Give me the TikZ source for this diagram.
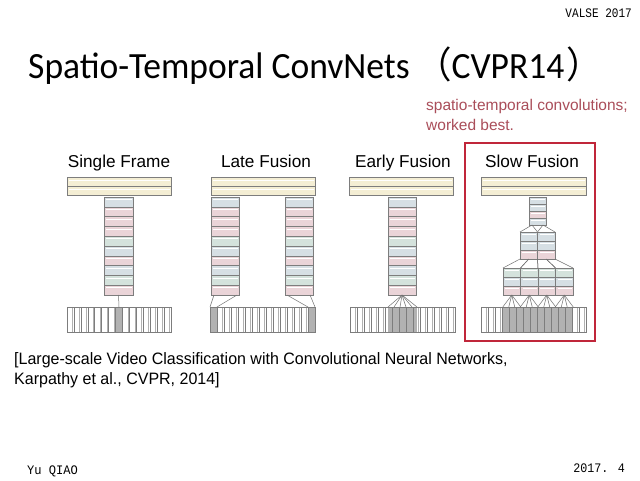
\documentclass[tikz,border=0pt]{standalone}
\usepackage{fontspec}
\usepackage{graphicx}
\setmainfont{Liberation Sans}
\newfontfamily\titlefont{Carlito}
\newfontfamily\cjkfont{Noto Sans CJK SC}
\newfontfamily\footfont{Liberation Mono}
\definecolor{fcy}{RGB}{244,238,212}
\definecolor{lb}{RGB}{214,223,228}
\definecolor{pk}{RGB}{234,212,216}
\definecolor{gb}{RGB}{212,226,220}
\definecolor{edge}{RGB}{125,125,125}
\definecolor{redbox}{RGB}{192,38,58}
\definecolor{annot}{RGB}{170,78,90}
\definecolor{grayframe}{RGB}{178,178,178}
\newcommand{\stripes}[5]{% x0, x1, y0, y1, n
  \pgfmathsetmacro\sw{(#2-#1)/#5}
  \foreach \k in {1,...,#5}{
    \pgfmathsetmacro\xa{#1+(\k-1)*\sw}
    \pgfmathsetmacro\xb{#1+\k*\sw-1.6}
    \draw[edge,line width=0.5pt] (\xa,#3) -- (\xa,#4);
    \draw[edge!60,line width=0.4pt] (\xb,#3+1) -- (\xb,#4);
  }
}
\tikzset{
  layer/.style={draw=edge, line width=0.5pt, inner sep=0pt, outer sep=0pt,
    path picture={\draw[white,line width=0.8pt] ([xshift=2pt,yshift=-2.6pt]path picture bounding box.north west) -- ([xshift=-1.5pt,yshift=-2.6pt]path picture bounding box.north east);}},
  fcbar/.style={layer, fill=fcy, minimum height=9pt},
  inbox/.style={draw=edge, line width=0.6pt, fill=white, inner sep=0pt, outer sep=0pt, minimum height=25pt},
  conn/.style={draw=edge!90!black, line width=0.5pt},
  colhead/.style={anchor=base, inner sep=0pt, font=\fontsize{17.2}{19}\selectfont},
  foot/.style={inner sep=0pt, font=\footfont\fontsize{13}{14}\selectfont}
}
\begin{document}
\begin{tikzpicture}[x=1pt,y=-1pt]
\useasboundingbox[fill=white] (0,0) rectangle (640,480);

% ---- texts ----
\node[foot, anchor=base east] (valse) at (632,17) {\scalebox{0.85}[1]{VALSE 2017}};
\node[anchor=base west, inner sep=0pt] (title) at (28,78) {\titlefont\fontsize{37}{40}\selectfont\scalebox{0.96}[1]{Spatio-Temporal ConvNets\hspace{0.18em}{\cjkfont （}CVPR14\hspace{0.05em}{\cjkfont ）}}};
\node[anchor=base west, inner sep=0pt, text=annot, align=left, font=\fontsize{15.5}{20}\selectfont] (annot) at (426,130) {spatio-temporal convolutions;\\worked best.};

\node[colhead] (h1) at (119,167) {Single Frame};
\node[colhead] (h2) at (266,167) {Late Fusion};
\node[colhead] (h3) at (403,167) {Early Fusion};
\node[colhead] (h4) at (532,167) {Slow Fusion};

\node[anchor=base west, inner sep=0pt, align=left, font=\fontsize{16.5}{19.5}\selectfont] (cite) at (14,384) {\scalebox{0.97}[1]{[Large-scale Video Classification with Convolutional Neural Networks,}\\\scalebox{0.97}[1]{Karpathy et al., CVPR, 2014]}};

\node[foot, anchor=base west] (author) at (27,474) {\scalebox{0.93}[1]{Yu QIAO}};
\node[foot, anchor=base east] (date) at (625,472) {\scalebox{0.9}[1]{2017. 4}};

% ---- red box ----
\node[draw=redbox, line width=2pt, minimum width=130pt, minimum height=198pt, inner sep=0pt] (slowbox) at (530,242) {};

% ---- Single Frame ----
\node[fcbar, minimum width=104pt] (s-fc1) at (119,182) {};
\node[fcbar, minimum width=104pt] (s-fc2) at (119,191) {};
\foreach \c [count=\i] in {lb,pk,pk,pk,gb,lb,pk,lb,gb,pk}{
  \node[layer, fill=\c, minimum width=29pt, minimum height=9.8pt] (s-\i) at (118.5,{197+(\i-0.5)*9.8}) {};
}
\node[inbox, minimum width=104pt] (s-in) at (119,319.5) {};
\fill[grayframe] (115.5,307) rectangle (122.4,332);
\stripes{67}{171}{307}{332}{15}
\node[inbox, minimum width=104pt, fill=none] at (119,319.5) {};
\draw[conn] (s-10.south) -- (s-in.north);

% ---- Late Fusion ----
\node[fcbar, minimum width=104pt] (l-fc1) at (263,182) {};
\node[fcbar, minimum width=104pt] (l-fc2) at (263,191) {};
\foreach \c [count=\i] in {lb,pk,pk,pk,gb,lb,pk,lb,gb,pk}{
  \node[layer, fill=\c, minimum width=28pt, minimum height=9.8pt] (la-\i) at (225,{197+(\i-0.5)*9.8}) {};
  \node[layer, fill=\c, minimum width=28pt, minimum height=9.8pt] (lb-\i) at (299,{197+(\i-0.5)*9.8}) {};
}
\node[inbox, minimum width=105pt] (l-in) at (262.5,319.5) {};
\fill[grayframe] (210,307) rectangle (217,332);
\fill[grayframe] (308,307) rectangle (315,332);
\stripes{210}{315}{307}{332}{15}
\node[inbox, minimum width=105pt, fill=none] at (262.5,319.5) {};
\coordinate (l-inl) at (217,307);
\coordinate (l-inr) at (308,307);
\draw[conn] ([xshift=3pt]la-10.south west) -- (l-in.north west);
\draw[conn] ([xshift=-2pt]la-10.south east) -- (l-inl);
\draw[conn] ([xshift=-3pt]lb-10.south east) -- (l-in.north east);
\draw[conn] ([xshift=2pt]lb-10.south west) -- (l-inr);

% ---- Early Fusion ----
\node[fcbar, minimum width=104pt] (e-fc1) at (401,182) {};
\node[fcbar, minimum width=104pt] (e-fc2) at (401,191) {};
\foreach \c [count=\i] in {lb,pk,pk,pk,gb,lb,pk,lb,gb,pk}{
  \node[layer, fill=\c, minimum width=28pt, minimum height=9.8pt] (e-\i) at (402,{197+(\i-0.5)*9.8}) {};
}
\node[inbox, minimum width=105pt] (e-in) at (402.5,319.5) {};
\fill[grayframe] (388,307) rectangle (417,332);
\stripes{350}{455}{307}{332}{15}
\node[inbox, minimum width=105pt, fill=none] at (402.5,319.5) {};
\foreach \t in {388,394,400,406,412,417}{
  \coordinate (e-t\t) at (\t,307);
  \draw[conn] (e-10.south) -- (e-t\t);
}

% ---- Slow Fusion ----
\node[fcbar, minimum width=105pt] (w-fc1) at (533.5,182) {};
\node[fcbar, minimum width=105pt] (w-fc2) at (533.5,191) {};
\foreach \c [count=\i] in {lb,lb,pk,lb}{
  \node[layer, fill=\c, minimum width=17pt, minimum height=7pt] (w1-\i) at (537.5,{197+(\i-0.5)*7}) {};
}
% level 2: 2 columns x 3 rows
\foreach \x [count=\j] in {528.75,546.25}{
  \foreach \c [count=\i] in {lb,lb,pk}{
    \node[layer, fill=\c, minimum width=17.5pt, minimum height=9pt] (w2-\j-\i) at (\x,{232+(\i-0.5)*9}) {};
  }
}
% level 3: 4 columns x 3 rows
\foreach \x [count=\j] in {511.75,529.25,546.75,564.25}{
  \foreach \c [count=\i] in {gb,lb,pk}{
    \node[layer, fill=\c, minimum width=17.5pt, minimum height=9pt] (w3-\j-\i) at (\x,{268+(\i-0.5)*9}) {};
  }
}
\node[inbox, minimum width=105pt] (w-in) at (533.5,319.5) {};
\fill[grayframe] (502,307) rectangle (573,332);
\stripes{481}{586}{307}{332}{15}
\node[inbox, minimum width=105pt, fill=none] at (533.5,319.5) {};
% level1 -> level2
\draw[conn] ([xshift=3pt]w1-4.south west) -- (w2-1-1.north west);
\draw[conn] ([xshift=3pt]w1-4.south west) -- (w2-1-1.north east);
\draw[conn] ([xshift=-3pt]w1-4.south east) -- (w2-2-1.north west);
\draw[conn] ([xshift=-3pt]w1-4.south east) -- (w2-2-1.north east);
% level2 -> level3
\foreach \j/\a/\b in {1/1/2,2/3/4}{
  \draw[conn] (w2-\j-3.south west) -- (w3-\a-1.north west);
  \draw[conn] (w2-\j-3.south) -- (w3-\a-1.north east);
  \draw[conn] (w2-\j-3.south) -- (w3-\b-1.north west);
  \draw[conn] (w2-\j-3.south east) -- (w3-\b-1.north east);
}
% level3 -> input
\foreach \j in {1,...,4}{
  \foreach \d in {-9,-3,3,9}{
    \draw[conn] (w3-\j-3.south) -- ([xshift=\d pt]w3-\j-3.south |- w-in.north);
  }
}
\end{tikzpicture}
\end{document}
